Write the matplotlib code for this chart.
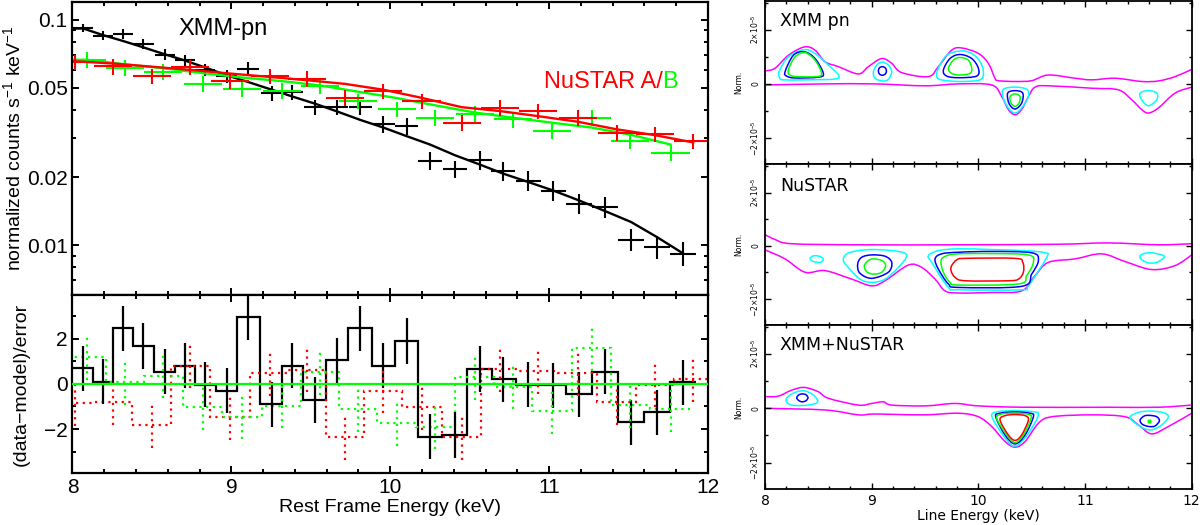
import numpy as np
import matplotlib.pyplot as plt
from matplotlib.path import Path
from matplotlib.patches import PathPatch
from matplotlib.ticker import FixedLocator, FixedFormatter, MultipleLocator, NullFormatter

plt.rcParams['font.family'] = ['Liberation Sans', 'DejaVu Sans']
plt.rcParams['mathtext.fontset'] = 'custom'
plt.rcParams['mathtext.rm'] = 'Liberation Sans'
plt.rcParams['mathtext.it'] = 'Liberation Sans:italic'

RED = '#ff0000'
GREEN = '#00ff00'
BLUE = '#0000ff'
CYAN = '#00ffff'
MAGENTA = '#ff00ff'

# ---- XMM-pn spectrum (bin centre keV, counts/s/keV)
pn_e = [8.068, 8.194, 8.32, 8.446, 8.582, 8.708, 8.834, 8.97, 9.106, 9.254, 9.38, 9.526, 9.663, 9.811,
        9.956, 10.103, 10.25, 10.407, 10.565, 10.711, 10.868, 11.026, 11.19, 11.351, 11.515, 11.677, 11.844]
pn_xerr = [0.063, 0.063, 0.063, 0.065, 0.065, 0.063, 0.065, 0.068, 0.071, 0.068, 0.068, 0.07, 0.071, 0.073,
           0.073, 0.073, 0.076, 0.078, 0.076, 0.076, 0.079, 0.08, 0.081, 0.081, 0.081, 0.082, 0.083]
pn_rate = [0.0918, 0.085, 0.0868, 0.078, 0.0701, 0.0661, 0.0598, 0.0562, 0.0608, 0.0474, 0.0478, 0.041, 0.041,
           0.041, 0.0344, 0.0338, 0.0237, 0.0218, 0.0239, 0.0214, 0.01935, 0.0175, 0.0153, 0.01476, 0.0106,
           0.00983, 0.0092]
pn_ferr = [0.04, 0.045, 0.05, 0.05, 0.055, 0.06, 0.06, 0.065, 0.07, 0.075, 0.075, 0.08, 0.08, 0.08, 0.085,
           0.085, 0.09, 0.09, 0.095, 0.095, 0.1, 0.1, 0.1, 0.105, 0.11, 0.115, 0.12]
pn_model = [0.0915, 0.0855, 0.0805, 0.0755, 0.0703, 0.066, 0.0615, 0.0568, 0.053, 0.049, 0.0458, 0.0425,
            0.0393, 0.036, 0.0333, 0.0305, 0.028, 0.0251, 0.0228, 0.0208, 0.0191, 0.0175, 0.0158, 0.0142,
            0.0127, 0.0109, 0.0092]
pn_resid = [0.69, 0.1, 2.46, 1.68, 0.54, 0.81, -0.04, -0.31, 2.95, -0.9, 0.81, -0.71, 1.05, 2.46, 0.8, 1.9,
            -2.33, -2.26, 0.66, 0.21, -0.04, -0.07, -0.46, 0.54, -1.7, -1.25, 0.07]

# ---- NuSTAR FPMA
fpma_e = [8.016, 8.257, 8.498, 8.739, 8.991, 9.243, 9.474, 9.715, 9.956, 10.197, 10.449, 10.69, 10.931,
          11.183, 11.425, 11.666, 11.907]
fpma_rate = [0.0649, 0.0622, 0.0562, 0.0616, 0.0534, 0.0562, 0.0549, 0.0451, 0.0483, 0.0436, 0.035, 0.0407,
             0.0394, 0.0368, 0.0316, 0.0311, 0.029]
fpma_model = [0.0655, 0.064, 0.062, 0.06, 0.0578, 0.0558, 0.054, 0.052, 0.049, 0.0451, 0.041, 0.0394, 0.0374,
              0.0353, 0.0327, 0.0308, 0.0286]
fpma_resid = [-0.86, -0.82, -1.84, 0.81, -1.47, 0.47, 0.62, -2.36, -0.31, -1.03, -2.36, 0.66, 0.57, 0.47,
              -0.81, -0.04, 0.21]

# ---- NuSTAR FPMB
fpmb_e = [8.089, 8.33, 8.571, 8.823, 9.065, 9.317, 9.558, 9.799, 10.04, 10.281, 10.533, 10.774, 11.016,
          11.267, 11.508, 11.764]
fpmb_rate = [0.0666, 0.0612, 0.0587, 0.052, 0.0496, 0.0486, 0.0508, 0.0436, 0.0401, 0.0368, 0.0383, 0.0362,
             0.0323, 0.0368, 0.029, 0.0258]
fpmb_model = [0.0665, 0.0635, 0.061, 0.058, 0.0555, 0.0535, 0.0512, 0.048, 0.045, 0.0418, 0.0388, 0.0368,
              0.035, 0.0333, 0.031, 0.028]
fpmb_resid = [1.17, 0.07, 0.37, -1.03, -1.45, -0.97, 0.52, -1.12, -1.74, -1.89, 0.3, -0.12, -1.22, 1.58,
              -0.93, -1.12]

nu_xerr = 0.12
nu_ferr = 0.08

spec_yticks = [0.01, 0.02, 0.05, 0.1]
spec_ytick_labels = ['0.01', '0.02', '0.05', '0.1']
spec_yminor = [0.006, 0.007, 0.008, 0.009, 0.03, 0.04, 0.06, 0.07, 0.08, 0.09]
resid_yticks = [-2, 0, 2]
resid_ytick_labels = ['\u22122', '0', '2']

# ---- contour outlines (line energy keV, norm in units of 1e-5)
pn_mag_up = [(8.0, 0.48), (8.094, 0.58), (8.219, 1.06), (8.369, 1.37), (8.469, 1.25), (8.563, 0.82),
             (8.688, 0.64), (8.875, 0.37), (8.969, 0.64), (9.094, 0.94), (9.188, 0.76), (9.281, 0.42),
             (9.531, 0.27), (9.625, 0.64), (9.75, 1.25), (9.844, 1.33), (10.0, 1.13), (10.094, 0.76),
             (10.156, 0.21), (10.188, 0.12), (10.344, 0.09), (10.5, 0.12), (10.656, 0.33), (10.906, 0.21),
             (11.063, 0.15), (11.281, 0.21), (11.531, 0.09), (11.688, 0.11), (11.844, 0.27), (12.0, 0.54)]
pn_mag_lo = [(8.0, -0.04), (8.563, 0.0), (9.031, 0.0), (9.5, -0.07), (9.813, 0.0), (10.125, -0.04),
             (10.219, -0.47), (10.281, -0.95), (10.344, -1.14), (10.406, -0.95), (10.469, -0.47),
             (10.531, -0.12), (10.656, -0.07), (11.063, -0.16), (11.313, -0.22), (11.438, -0.59),
             (11.531, -0.95), (11.594, -1.08), (11.688, -0.89), (11.844, -0.34), (12.0, -0.12)]
pn_cyan_a = [(8.141, 0.21), (8.131, 0.45), (8.219, 1.0), (8.369, 1.27), (8.469, 1.13), (8.594, 0.7),
             (8.688, 0.33), (8.656, 0.18), (8.375, 0.15), (8.172, 0.15)]
pn_blue_a = [(8.188, 0.45), (8.266, 1.06), (8.369, 1.19), (8.469, 0.94), (8.547, 0.39), (8.5, 0.25),
             (8.281, 0.22), (8.203, 0.29)]
pn_green_a = [(8.219, 0.51), (8.281, 1.0), (8.375, 1.16), (8.469, 0.88), (8.531, 0.39), (8.484, 0.27),
              (8.297, 0.27), (8.234, 0.33)]
pn_cyan_b = [(9.016, 0.45), (9.047, 0.7), (9.1, 0.81), (9.156, 0.7), (9.188, 0.45), (9.156, 0.17),
             (9.1, 0.11), (9.031, 0.21)]
pn_blue_b = [(9.063, 0.48), (9.072, 0.59), (9.1, 0.64), (9.128, 0.59), (9.138, 0.48), (9.128, 0.37),
             (9.1, 0.32), (9.072, 0.37)]
pn_cyan_c = [(9.609, 0.27), (9.625, 0.58), (9.703, 1.06), (9.828, 1.22), (9.938, 1.13), (10.016, 0.82),
             (10.047, 0.45), (10.016, 0.15), (9.813, 0.09), (9.656, 0.15)]
pn_blue_c = [(9.672, 0.51), (9.734, 0.94), (9.828, 1.09), (9.938, 0.94), (10.0, 0.58), (9.984, 0.29),
             (9.813, 0.23), (9.703, 0.29)]
pn_green_c = [(9.719, 0.58), (9.766, 0.88), (9.828, 0.98), (9.906, 0.88), (9.938, 0.58), (9.922, 0.39),
              (9.828, 0.33), (9.75, 0.39)]
pn_cyan_d = [(10.234, -0.2), (10.344, -0.12), (10.453, -0.2), (10.469, -0.47), (10.406, -0.89),
             (10.344, -1.08), (10.281, -0.89), (10.234, -0.53)]
pn_blue_d = [(10.275, -0.34), (10.344, -0.25), (10.416, -0.34), (10.406, -0.71), (10.344, -0.93),
             (10.288, -0.73)]
pn_green_d = [(10.297, -0.47), (10.344, -0.37), (10.391, -0.47), (10.381, -0.71), (10.344, -0.83),
              (10.306, -0.71)]
pn_cyan_e = [(11.516, -0.34), (11.594, -0.25), (11.672, -0.34), (11.672, -0.59), (11.594, -0.81),
             (11.531, -0.59)]

nu_mag_up = [(8.0, 0.42), (8.094, 0.24), (8.25, 0.08), (8.875, 0.04), (9.813, 0.04), (10.75, 0.06),
             (11.219, 0.11), (11.688, 0.04), (12.0, 0.08)]
nu_mag_lo = [(8.0, -0.15), (8.188, -0.49), (8.375, -0.99), (8.563, -0.93), (8.813, -1.25), (9.0, -1.5),
             (9.125, -1.31), (9.344, -0.72), (9.469, -0.81), (9.594, -1.25), (9.688, -1.69), (9.813, -1.77),
             (10.125, -1.75), (10.406, -1.69), (10.531, -1.12), (10.656, -0.62), (10.906, -0.49),
             (11.156, -0.3), (11.375, -0.59), (11.625, -0.89), (11.844, -0.74), (12.0, -0.34)]
nu_cyan_a = [(8.422, -0.49), (8.444, -0.39), (8.484, -0.37), (8.531, -0.43), (8.547, -0.53), (8.516, -0.62),
             (8.453, -0.59)]
nu_cyan_b = [(8.734, -0.55), (8.766, -0.3), (8.875, -0.18), (9.031, -0.14), (9.25, -0.21), (9.328, -0.37),
             (9.25, -0.81), (9.125, -1.25), (9.0, -1.37), (8.891, -1.25), (8.781, -0.81)]
nu_blue_b = [(8.869, -0.68), (8.906, -0.43), (9.0, -0.34), (9.125, -0.39), (9.188, -0.62), (9.156, -0.99),
             (9.0, -1.22), (8.888, -1.02)]
nu_green_b = [(8.931, -0.74), (8.969, -0.55), (9.016, -0.49), (9.094, -0.55), (9.131, -0.74), (9.094, -0.99),
              (9.016, -1.06), (8.953, -0.97)]
nu_cyan_c = [(9.531, -0.37), (9.625, -0.18), (9.813, -0.11), (10.125, -0.14), (10.438, -0.18), (10.625, -0.26),
             (10.641, -0.43), (10.469, -1.5), (10.406, -1.65), (9.813, -1.65), (9.719, -1.56), (9.563, -0.62)]
nu_blue_c = [(9.594, -0.49), (9.656, -0.3), (9.813, -0.24), (10.125, -0.21), (10.5, -0.26), (10.563, -0.55),
             (10.5, -1.06), (10.406, -1.52), (9.813, -1.56), (9.719, -1.43), (9.625, -0.87)]
nu_green_c = [(9.65, -0.55), (9.703, -0.37), (9.813, -0.3), (10.125, -0.29), (10.469, -0.34), (10.516, -0.62),
              (10.453, -1.12), (10.375, -1.43), (9.813, -1.47), (9.734, -1.37), (9.672, -0.99)]
nu_red_c = [(9.75, -0.74), (9.797, -0.53), (9.875, -0.47), (10.344, -0.47), (10.416, -0.62), (10.422, -0.99),
            (10.375, -1.25), (10.281, -1.31), (9.875, -1.31), (9.781, -1.18), (9.744, -0.93)]
nu_cyan_d = [(11.516, -0.37), (11.563, -0.28), (11.625, -0.26), (11.719, -0.34), (11.744, -0.43),
             (11.672, -0.62), (11.594, -0.64), (11.531, -0.52)]

jt_mag_up = [(8.0, 0.43), (8.125, 0.45), (8.25, 0.67), (8.369, 0.77), (8.5, 0.61), (8.594, 0.37), (8.875, 0.12),
             (9.0, 0.18), (9.109, 0.24), (9.188, 0.12), (9.5, 0.09), (9.781, 0.18), (10.0, 0.09),
             (10.438, 0.04), (11.219, 0.04), (11.688, 0.04), (12.0, 0.12)]
jt_mag_lo = [(8.0, 0.0), (8.563, -0.06), (8.875, -0.24), (9.0, -0.21), (9.188, -0.22), (9.5, -0.24),
             (9.813, -0.18), (10.0, -0.31), (10.125, -0.67), (10.25, -1.22), (10.344, -1.43), (10.438, -1.22),
             (10.563, -0.55), (10.688, -0.31), (11.063, -0.24), (11.375, -0.31), (11.5, -0.61), (11.625, -0.94),
             (11.781, -0.67), (12.0, -0.18)]
jt_cyan_a = [(8.197, 0.31), (8.25, 0.53), (8.359, 0.65), (8.453, 0.49), (8.494, 0.24), (8.406, 0.12),
             (8.25, 0.12)]
jt_blue_a = [(8.297, 0.39), (8.319, 0.5), (8.35, 0.53), (8.384, 0.5), (8.403, 0.39), (8.384, 0.28),
             (8.35, 0.24), (8.319, 0.28)]
jt_cyan_b = [(10.125, -0.28), (10.188, -0.12), (10.344, -0.09), (10.5, -0.12), (10.563, -0.24), (10.469, -0.92),
             (10.375, -1.34), (10.344, -1.38), (10.306, -1.34), (10.219, -0.92)]
jt_blue_b = [(10.163, -0.31), (10.203, -0.18), (10.344, -0.13), (10.484, -0.18), (10.516, -0.31),
             (10.438, -0.98), (10.344, -1.31), (10.25, -0.98)]
jt_green_b = [(10.172, -0.37), (10.219, -0.21), (10.344, -0.18), (10.469, -0.22), (10.494, -0.37),
              (10.422, -0.98), (10.344, -1.26), (10.266, -0.98)]
jt_red_b = [(10.203, -0.43), (10.25, -0.27), (10.344, -0.23), (10.438, -0.27), (10.469, -0.43),
            (10.406, -0.98), (10.344, -1.18), (10.281, -0.98)]
jt_cyan_c = [(11.422, -0.31), (11.5, -0.15), (11.609, -0.1), (11.734, -0.16), (11.781, -0.31), (11.719, -0.61),
             (11.625, -0.79), (11.547, -0.73), (11.453, -0.49)]
jt_blue_c = [(11.516, -0.43), (11.556, -0.28), (11.609, -0.26), (11.672, -0.31), (11.697, -0.46),
             (11.656, -0.65), (11.6, -0.67), (11.538, -0.59)]
jt_green_pt = [(11.603, -0.46)]

norm_yticks = [-2, 0, 2]
norm_ytick_labels = ['\u22122\u00d710$^{-5}$', '0', '2\u00d710$^{-5}$']
line_e_ticks = [8, 9, 10, 11, 12]


def edges(c, hw):
    c = np.asarray(c, float)
    hw = np.broadcast_to(np.asarray(hw, float), c.shape)
    return np.r_[c[0] - hw[0], (c[1:] + c[:-1]) / 2, c[-1] + hw[-1]]


def smooth_path(pts, closed):
    # bezier path through the read vertices (curves rendered by matplotlib)
    p = np.asarray(pts, float)
    n = len(p)
    verts = [p[0]]
    codes = [Path.MOVETO]
    for i in range(n if closed else n - 1):
        p0 = p[(i - 1) % n] if (closed or i > 0) else p[i]
        p1 = p[i]
        p2 = p[(i + 1) % n]
        p3 = p[(i + 2) % n] if (closed or i + 2 < n) else p2
        verts += [p1 + (p2 - p0) / 6, p2 - (p3 - p1) / 6, p2]
        codes += [Path.CURVE4] * 3
    return Path(verts, codes)


def style_ax(ax, major=5, minor=3):
    ax.tick_params(which='both', direction='in', top=True, right=True, width=1.4)
    ax.tick_params(which='major', length=major)
    ax.tick_params(which='minor', length=minor)
    for s in ax.spines.values():
        s.set_linewidth(1.6)


fig = plt.figure(figsize=(12, 5.25), dpi=100)

# ---------------- spectrum
ax1 = fig.add_axes([0.0604, 0.438, 0.5296, 0.559])
ax2 = fig.add_axes([0.0604, 0.0996, 0.5296, 0.3384], sharex=ax1)

spectra = [(pn_e, pn_xerr, pn_rate, pn_ferr, pn_model, 'black'),
           (fpmb_e, nu_xerr, fpmb_rate, nu_ferr, fpmb_model, GREEN),
           (fpma_e, nu_xerr, fpma_rate, nu_ferr, fpma_model, RED)]
for e, xe, r, fe, m, c in spectra:
    r = np.asarray(r)
    xe_arr = np.broadcast_to(np.asarray(xe, float), r.shape)
    ax1.errorbar(e, r, xerr=xe_arr, yerr=r * np.asarray(fe), fmt='none', ecolor=c, elinewidth=1.5,
                 capsize=0)
    ax1.plot(np.r_[e[0] - xe_arr[0], e], np.r_[m[0], m], color=c, lw=1.7)

ax1.set_yscale('log')
ax1.set_ylim(0.00602, 0.1205)
ax1.set_xlim(8, 12)
ax1.yaxis.set_major_locator(FixedLocator(spec_yticks))
ax1.yaxis.set_major_formatter(FixedFormatter(spec_ytick_labels))
ax1.yaxis.set_minor_locator(FixedLocator(spec_yminor))
ax1.yaxis.set_minor_formatter(NullFormatter())
ax1.xaxis.set_major_locator(MultipleLocator(1))
ax1.xaxis.set_minor_locator(MultipleLocator(0.2))
style_ax(ax1)
ax1.tick_params(labelbottom=False, labelsize=15)
ax1.set_ylabel('normalized counts s$^{-1}$ keV$^{-1}$', fontsize=14, labelpad=2)
ax1.text(0.237, 0.905, 'XMM-pn', transform=ax1.transAxes, ha='center', va='center', fontsize=17)
tb = ax1.text(0.953, 0.725, 'B', transform=ax1.transAxes, ha='right', va='center', fontsize=17, color=GREEN)
ax1.annotate('NuSTAR A/', xy=(0, 0), xycoords=tb, ha='right', va='bottom', fontsize=17, color=RED)

dotted = (0, (1, 2))
resids = [(pn_e, pn_xerr, pn_resid, 'black', '-'),
          (fpma_e, nu_xerr, fpma_resid, RED, dotted),
          (fpmb_e, nu_xerr, fpmb_resid, GREEN, dotted)]
for e, xe, res, c, ls in resids:
    ax2.stairs(res, edges(e, xe), baseline=None, color=c, lw=1.6, linestyle=ls)
    eb = ax2.errorbar(e, res, yerr=1.0, fmt='none', ecolor=c, elinewidth=1.6, capsize=0)
    eb[2][0].set_linestyle(ls)
ax2.axhline(0, color=GREEN, lw=1.6, zorder=5)
ax2.set_ylim(-3.93, 3.93)
ax2.yaxis.set_major_locator(FixedLocator(resid_yticks))
ax2.yaxis.set_major_formatter(FixedFormatter(resid_ytick_labels))
ax2.yaxis.set_minor_locator(MultipleLocator(1))
style_ax(ax2)
ax2.tick_params(labelsize=15)
ax2.set_xticks(line_e_ticks)
ax2.set_xticklabels([str(t) for t in line_e_ticks])
ax2.set_xlabel('Rest Frame Energy (keV)', fontsize=14, labelpad=2)
ax2.set_ylabel('(data\u2212model)/error', fontsize=14, labelpad=10)

# ---------------- contour panels
panels = [
    ('XMM pn', [0.6875, 0.3105], pn_mag_up, pn_mag_lo,
     [(pn_cyan_a, CYAN), (pn_blue_a, BLUE), (pn_green_a, GREEN), (pn_cyan_b, CYAN), (pn_blue_b, BLUE),
      (pn_cyan_c, CYAN), (pn_blue_c, BLUE), (pn_green_c, GREEN), (pn_cyan_d, CYAN), (pn_blue_d, BLUE),
      (pn_green_d, GREEN), (pn_cyan_e, CYAN)], 0.878),
    ('NuSTAR', [0.381, 0.3065], nu_mag_up, nu_mag_lo,
     [(nu_cyan_a, CYAN), (nu_cyan_b, CYAN), (nu_blue_b, BLUE), (nu_green_b, GREEN), (nu_cyan_c, CYAN),
      (nu_blue_c, BLUE), (nu_green_c, GREEN), (nu_red_c, RED), (nu_cyan_d, CYAN)], 0.865),
    ('XMM+NuSTAR', [0.0686, 0.3124], jt_mag_up, jt_mag_lo,
     [(jt_cyan_a, CYAN), (jt_blue_a, BLUE), (jt_cyan_b, CYAN), (jt_blue_b, BLUE), (jt_green_b, GREEN),
      (jt_red_b, RED), (jt_cyan_c, CYAN), (jt_blue_c, BLUE)], 0.878),
]
for i, (title, (bot, h), up, lo, loops, ty) in enumerate(panels):
    ax = fig.add_axes([0.6375, bot, 0.3556, h])
    for line in (up, lo):
        ax.add_patch(PathPatch(smooth_path(line, False), fill=False, edgecolor=MAGENTA, lw=1.1))
    for pts, c in loops:
        ax.add_patch(PathPatch(smooth_path(pts, True), fill=False, edgecolor=c, lw=1.1))
    ax.set_xlim(8, 12)
    ax.set_ylim(-2.97, 3.07)
    ax.xaxis.set_major_locator(FixedLocator(line_e_ticks))
    ax.xaxis.set_minor_locator(MultipleLocator(0.2))
    ax.yaxis.set_major_locator(FixedLocator(norm_yticks))
    ax.yaxis.set_major_formatter(FixedFormatter(norm_ytick_labels))
    ax.yaxis.set_minor_locator(MultipleLocator(1))
    ax.tick_params(which='both', direction='in', top=True, right=True, width=1.0)
    ax.tick_params(which='major', length=4)
    ax.tick_params(which='minor', length=2.5)
    for s in ax.spines.values():
        s.set_linewidth(1.3)
    for lab in ax.get_yticklabels():
        lab.set_rotation(90)
        lab.set_va('center')
        lab.set_fontsize(5.5)
        lab.set_family('DejaVu Sans')
    ax.set_ylabel('Norm.', fontsize=5.5, family='DejaVu Sans', labelpad=4)
    ax.text(0.035, ty, title, transform=ax.transAxes, ha='left', va='center', fontsize=12.5,
            family='DejaVu Sans')
    if i == 2:
        e, n = zip(*jt_green_pt)
        ax.plot(e, n, 'o', color=GREEN, ms=2)
        ax.set_xticklabels([str(t) for t in line_e_ticks], fontsize=10, family='DejaVu Sans')
        ax.set_xlabel('Line Energy (keV)', fontsize=10, family='DejaVu Sans', labelpad=1)
    else:
        ax.tick_params(labelbottom=False)

fig.savefig('out.png', dpi=100)
